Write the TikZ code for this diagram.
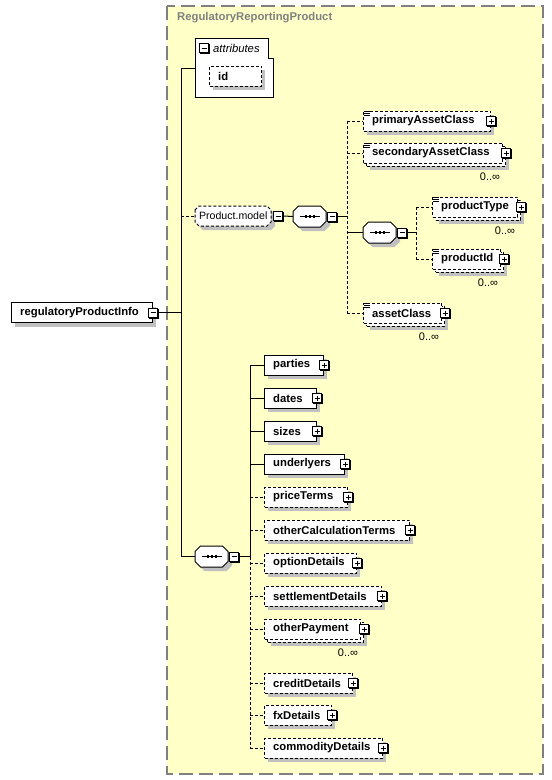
\documentclass[tikz,border=0pt]{standalone}
\usepackage{fontspec}
\setmainfont{Liberation Sans}
\definecolor{bgy}{RGB}{255,255,200}
\definecolor{shd}{RGB}{192,192,192}
\definecolor{ttl}{RGB}{128,128,128}
\tikzset{
 dsh/.style={dash pattern=on 3pt off 2pt},
 conn/.style={line width=1pt},
 box/.style={draw,fill=white,line width=1pt,minimum height=20pt,inner sep=0pt},
 lbl/.style={inner sep=0pt,anchor=west,font=\fontsize{11.3}{13}\selectfont\bfseries},
 occ/.style={inner sep=0pt,font=\fontsize{11}{13}\selectfont},
 pmb/.style={draw,fill=white,line width=1pt,minimum size=9pt,inner sep=0pt},
 pmshadow/.style={fill=black,minimum size=10pt,inner sep=0pt},
 plus/.style={pmb,path picture={
   \draw[line width=1pt] ([xshift=2pt]path picture bounding box.west) -- ([xshift=-2pt]path picture bounding box.east)
     ([yshift=-2pt]path picture bounding box.north) -- ([yshift=2pt]path picture bounding box.south);}},
 minus/.style={pmb,path picture={
   \draw[line width=1pt] ([xshift=2pt]path picture bounding box.west) -- ([xshift=-2pt]path picture bounding box.east);}},
 seqbox/.style={inner sep=0pt,minimum width=33pt,minimum height=21pt,anchor=west},
 grpbox/.style={inner sep=0pt,minimum width=76pt,minimum height=20pt,anchor=west,font=\fontsize{10.6}{13}\selectfont},
}
% plus / minus box with its small black shadow: #1 style, #2 name, #3 position
\newcommand\pmx[3]{%
 \coordinate (#2-c) at (#3);
 \node[pmshadow] (#2-sh) at ([shift={(1pt,-1pt)}]#2-c) {};
 \node[#1] (#2) at (#2-c) {};}
% plain element
\newcommand\el[6]{%
 \fill[shd] ({#3+4},{#4-6}) rectangle ({#5+4},{#4+14});
 \node[box,#1,minimum width={#5-#3},anchor=west] (#2) at (#3,#4) {};
 \node[lbl] (#2-t) at ({#3+9},#4) {#6};
 \pmx{plus}{#2-p}{#2.east}}
% element with several occurrences
\newcommand\elm[6]{%
 \fill[shd] ({#3+7},{#4-3}) rectangle ({#5+7},{#4+17});
 \node[box,#1,minimum width={#5-#3},anchor=west] (#2-b) at ({#3+3},{#4+3}) {};
 \node[box,#1,minimum width={#5-#3},anchor=west] (#2) at (#3,#4) {};
 \node[lbl] (#2-t) at ({#3+9},#4) {#6};
 \pmx{plus}{#2-p}{[xshift=3pt]#2.east}
 \node[occ] (#2-o) at ({#5-12},{#4+24}) {0..∞};}
\newcommand\ic[1]{%
 \foreach \k in {0.5,2.5,4.5}{\draw[line width=0.8pt] ([xshift=1pt,yshift=-\k pt]#1.north west) -- ++(6,0);}}
% octagon outline: #1 L, #2 C, #3 width, #4 half height, #5 chamfer
\newcommand\octpath[5]{(#1,{#2-#4+#5}) -- ({#1+#5},{#2-#4}) -- ({#1+#3-#5},{#2-#4}) -- ({#1+#3},{#2-#4+#5}) -- ({#1+#3},{#2+#4-#5}) -- ({#1+#3-#5},{#2+#4}) -- ({#1+#5},{#2+#4}) -- (#1,{#2+#4-#5}) -- cycle}
% sequence compositor: #1 name, #2 L, #3 C
\newcommand\seqx[3]{%
 \fill[shd] \octpath{#2+4}{#3+4}{33}{10.5}{5.5};
 \draw[line width=1pt,fill=white] \octpath{#2}{#3}{33}{10.5}{5.5};
 \node[seqbox] (#1) at (#2,#3) {};
 \draw[line width=1pt] ([xshift=-10pt]#1.center) -- ([xshift=10pt]#1.center);
 \foreach \d in {-4,0,4}{\fill ([xshift=\d pt]#1.center) +(-1.2pt,-1.3pt) rectangle +(1.2pt,1.3pt);}
 \pmx{minus}{#1-m}{[xshift=6pt]#1.east}}
\begin{document}
\begin{tikzpicture}[x=1pt,y=-1pt]
\useasboundingbox (0,0) rectangle (552,780);
\draw[ttl,line width=1.5pt,dash pattern=on 14pt off 6pt,fill=bgy] (167,6) rectangle (543,774);
\node[lbl,text=ttl] (title) at (177,18) {RegulatoryReportingProduct};
% attributes
\draw[line width=1pt,fill=white] (195,38) -- (268,38) -- (268,58) -- (273,58) -- (273,97) -- (195,97) -- cycle;
\pmx{minus}{attr-m}{204,48}
\node[inner sep=0pt,anchor=west,font=\fontsize{11.3}{13}\selectfont\itshape] (attr-t) at (213,48) {attributes};
\coordinate (attrw) at (195,68);
\fill[shd] (213,70) rectangle (265,90);
\node[box,dsh,minimum width=52pt,anchor=west] (id) at (209,76) {};
\node[lbl] (id-t) at (218,76) {id};
% root
\fill[shd] (15,306.5) rectangle (156,326.5);
\node[box,minimum width=141pt,anchor=west] (rpi) at (11,312.5) {};
\node[lbl] (rpi-t) at (20,312.5) {regulatoryProductInfo};
\pmx{minus}{rpi-m}{rpi.east}
% product model group
\fill[shd] \octpath{199}{220}{76}{10}{4};
\draw[line width=1pt,fill=white,dsh] \octpath{195}{216}{76}{10}{4};
\node[grpbox] (pm) at (195,216) {Product.model};
\pmx{minus}{pm-m}{[xshift=7pt]pm.east}
\seqx{s1}{293}{216.5}
\el{dsh}{pac}{363}{121}{490}{primaryAssetClass}\ic{pac}
\elm{dsh}{sac}{363}{153}{502}{secondaryAssetClass}\ic{sac}
\seqx{s2}{363}{232.5}
\elm{dsh}{pt}{432}{207}{517}{productType}\ic{pt}
\elm{dsh}{pid}{432}{259}{500}{productId}\ic{pid}
\elm{dsh}{ac}{363}{313}{441}{assetClass}\ic{ac}
% bottom sequence
\seqx{s3}{195}{556.5}
\el{}{parties}{264}{365}{323}{parties}
\el{}{dates}{264}{398}{316}{dates}
\el{}{sizes}{264}{431}{316}{sizes}
\el{}{und}{264}{464}{344}{underlyers}
\el{dsh}{price}{264}{497}{347}{priceTerms}
\el{dsh}{oct}{264}{530}{409}{otherCalculationTerms}
\el{dsh}{opt}{264}{563}{356}{optionDetails}
\el{dsh}{set}{264}{596}{381}{settlementDetails}
\elm{dsh}{op}{264}{629}{360}{otherPayment}
\el{dsh}{cred}{264}{683}{352}{creditDetails}
\el{dsh}{fx}{264}{715}{331}{fxDetails}
\el{dsh}{comm}{264}{748}{382}{commodityDetails}
% connectors
\coordinate (b1) at (181,0);
\coordinate (b2) at (347,0);
\coordinate (b3) at (416,0);
\coordinate (b4) at (250,0);
\draw[conn] (rpi-m.east) -- (rpi-m.east -| b1);
\draw[conn] (attrw) -- (attrw -| b1) -- (b1 |- s3.west) -- (s3.west);
\draw[conn,dsh] (b1 |- pm.west) -- (pm.west);
\draw[conn] (pm-m.east) -- (s1.west);
\draw[conn] (s1-m.east) -- (s1-m.east -| b2);
\draw[conn,dsh] (b2 |- pac.west) -- (b2 |- ac.west);
\foreach \n in {pac,sac,ac} \draw[conn,dsh] (b2 |- \n.west) -- (\n.west);
\draw[conn] (b2 |- s2.west) -- (s2.west);
\draw[conn] (s2-m.east) -- (s2-m.east -| b3);
\draw[conn,dsh] (b3 |- pt.west) -- (b3 |- pid.west);
\foreach \n in {pt,pid} \draw[conn,dsh] (b3 |- \n.west) -- (\n.west);
\draw[conn] (s3-m.east) -- (s3-m.east -| b4);
\draw[conn] (b4 |- parties.west) -- (b4 |- s3.west);
\draw[conn,dsh] (b4 |- s3.west) -- (b4 |- comm.west);
\foreach \n in {parties,dates,sizes,und} \draw[conn] (b4 |- \n.west) -- (\n.west);
\foreach \n in {price,oct,opt,set,op,cred,fx,comm} \draw[conn,dsh] (b4 |- \n.west) -- (\n.west);
\end{tikzpicture}
\end{document}
